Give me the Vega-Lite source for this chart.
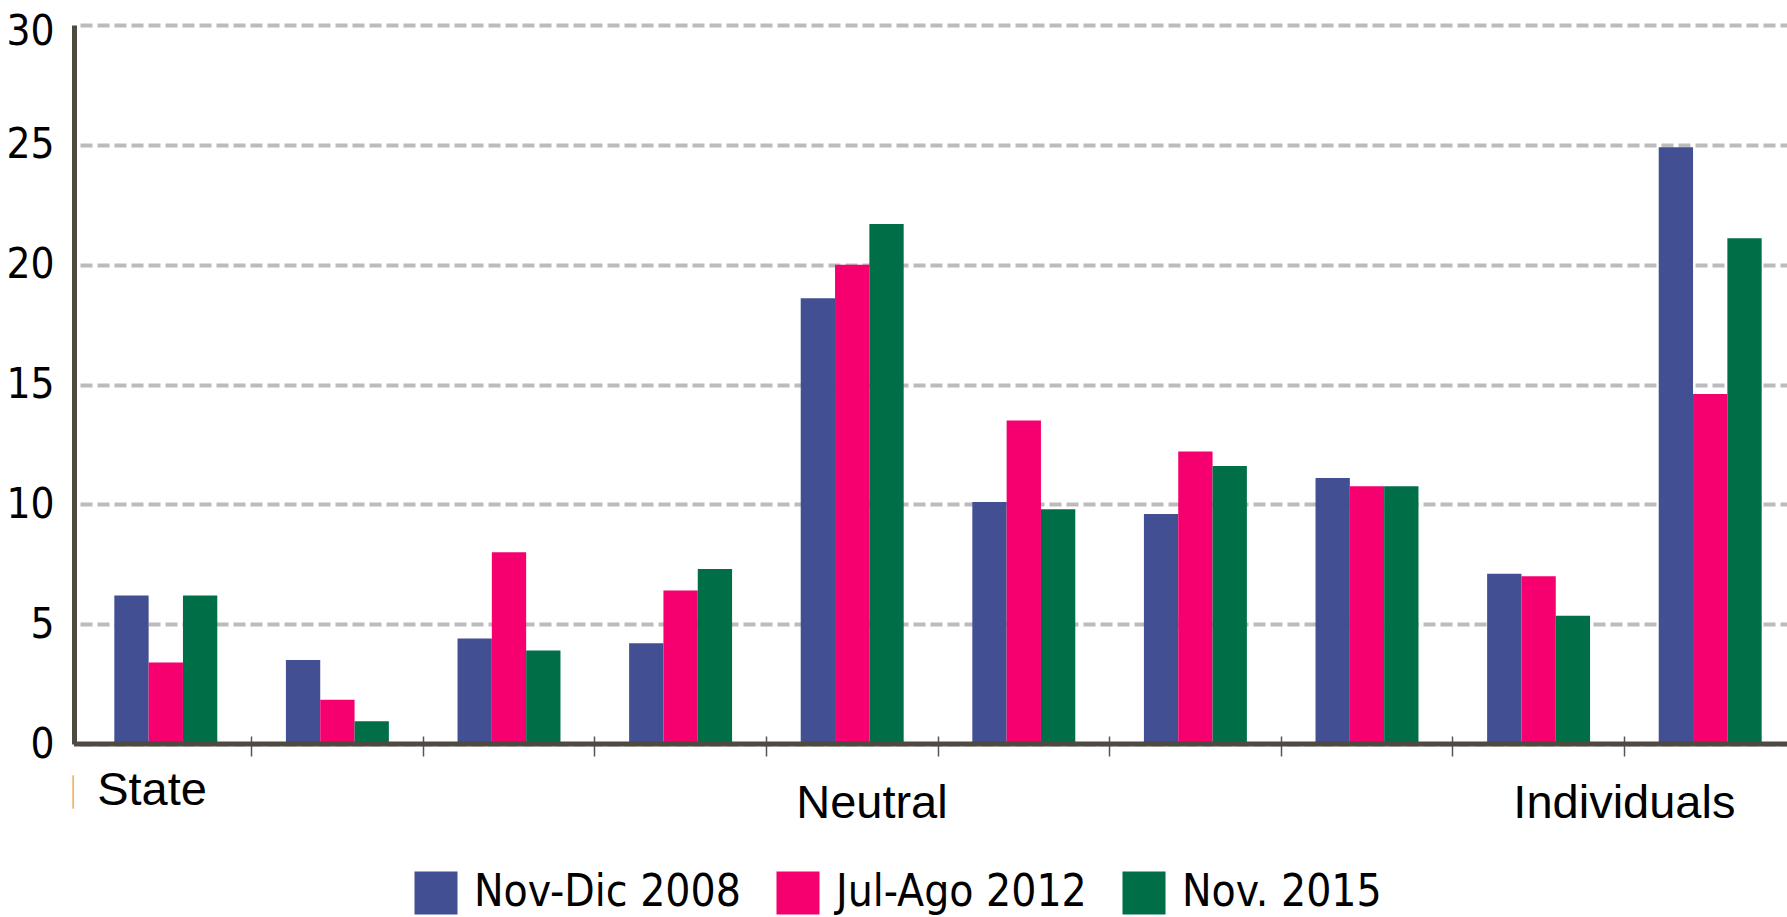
{
  "$schema": "https://vega.github.io/schema/vega-lite/v6.json",
  "autosize": {"type": "none"},
  "padding": {"left": 74, "top": 25, "right": 0, "bottom": 173},
  "width": 1713,
  "height": 719,
  "background": "white",
  "config": {"view": {"stroke": null}, "font": "Liberation Sans"},
  "datasets": {
    "bars": [
      {"group": "G01", "period": "Nov-Dic 2008", "value": 6.2},
      {"group": "G01", "period": "Jul-Ago 2012", "value": 3.4},
      {"group": "G01", "period": "Nov. 2015", "value": 6.2},
      {"group": "G02", "period": "Nov-Dic 2008", "value": 3.5},
      {"group": "G02", "period": "Jul-Ago 2012", "value": 1.85},
      {"group": "G02", "period": "Nov. 2015", "value": 0.95},
      {"group": "G03", "period": "Nov-Dic 2008", "value": 4.4},
      {"group": "G03", "period": "Jul-Ago 2012", "value": 8.0},
      {"group": "G03", "period": "Nov. 2015", "value": 3.9},
      {"group": "G04", "period": "Nov-Dic 2008", "value": 4.2},
      {"group": "G04", "period": "Jul-Ago 2012", "value": 6.4},
      {"group": "G04", "period": "Nov. 2015", "value": 7.3},
      {"group": "G05", "period": "Nov-Dic 2008", "value": 18.6},
      {"group": "G05", "period": "Jul-Ago 2012", "value": 20.0},
      {"group": "G05", "period": "Nov. 2015", "value": 21.7},
      {"group": "G06", "period": "Nov-Dic 2008", "value": 10.1},
      {"group": "G06", "period": "Jul-Ago 2012", "value": 13.5},
      {"group": "G06", "period": "Nov. 2015", "value": 9.8},
      {"group": "G07", "period": "Nov-Dic 2008", "value": 9.6},
      {"group": "G07", "period": "Jul-Ago 2012", "value": 12.2},
      {"group": "G07", "period": "Nov. 2015", "value": 11.6},
      {"group": "G08", "period": "Nov-Dic 2008", "value": 11.1},
      {"group": "G08", "period": "Jul-Ago 2012", "value": 10.75},
      {"group": "G08", "period": "Nov. 2015", "value": 10.75},
      {"group": "G09", "period": "Nov-Dic 2008", "value": 7.1},
      {"group": "G09", "period": "Jul-Ago 2012", "value": 7.0},
      {"group": "G09", "period": "Nov. 2015", "value": 5.35},
      {"group": "G10", "period": "Nov-Dic 2008", "value": 24.9},
      {"group": "G10", "period": "Jul-Ago 2012", "value": 14.6},
      {"group": "G10", "period": "Nov. 2015", "value": 21.1}
    ],
    "labels": [
      {"label": "State", "group": "G01"},
      {"label": "Neutral", "group": "G05"},
      {"label": "Individuals", "group": "G10"}
    ]
  },
  "layer": [
    {
      "data": {"name": "bars"},
      "mark": {"type": "bar"},
      "encoding": {
        "x": {
          "field": "group",
          "type": "nominal",
          "scale": {
            "domain": ["G01", "G02", "G03", "G04", "G05", "G06", "G07", "G08", "G09", "G10"],
            "range": [6, 1722],
            "paddingInner": 0,
            "paddingOuter": 0
          },
          "axis": {
            "title": null,
            "labels": false,
            "domain": false,
            "grid": false,
            "bandPosition": 0,
            "tickSize": 20,
            "offset": -8,
            "tickWidth": 1.5,
            "tickColor": "#555555",
            "tickOpacity": {"condition": {"test": "datum.value === 'G01'", "value": 0}, "value": 1}
          }
        },
        "xOffset": {
          "field": "period",
          "type": "nominal",
          "sort": ["Nov-Dic 2008", "Jul-Ago 2012", "Nov. 2015"],
          "scale": {"paddingInner": 0, "paddingOuter": 1.1}
        },
        "y": {
          "field": "value",
          "type": "quantitative",
          "scale": {"domain": [0, 30], "nice": false},
          "axis": {
            "title": null,
            "values": [0, 5, 10, 15, 20, 25, 30],
            "grid": true,
            "gridColor": "#bcbcbc",
            "gridDash": [12, 5],
            "gridWidth": 4,
            "domainColor": "#4e4a41",
            "domainWidth": 5,
            "ticks": false,
            "labelFont": "DejaVu Sans Condensed, Liberation Sans",
            "labelFontSize": 42,
            "labelColor": "black",
            "labelPadding": 20,
            "labelOffset": {"condition": {"test": "datum.value === 30", "value": 6}, "value": 0}
          }
        },
        "color": {
          "field": "period",
          "type": "nominal",
          "sort": ["Nov-Dic 2008", "Jul-Ago 2012", "Nov. 2015"],
          "scale": {
            "domain": ["Nov-Dic 2008", "Jul-Ago 2012", "Nov. 2015"],
            "range": ["#434f93", "#f5006e", "#006f48"]
          },
          "legend": {
            "orient": "none",
            "legendX": 340,
            "legendY": 846,
            "direction": "horizontal",
            "title": null,
            "symbolType": "square",
            "symbolSize": 1849,
            "symbolStrokeWidth": 0,
            "symbolOpacity": 1,
            "labelFont": "DejaVu Sans Condensed, Liberation Sans",
            "labelFontSize": 44,
            "labelColor": "black",
            "labelOffset": 16,
            "labelLimit": 500,
            "columnPadding": 35,
            "padding": 0,
            "rowPadding": 0
          }
        }
      }
    },
    {
      "data": {"values": [{}]},
      "mark": {"type": "rule", "color": "#4e4a41", "strokeWidth": 5},
      "encoding": {"y": {"datum": 0, "scale": {"domain": [0, 30], "nice": false}}}
    },
    {
      "data": {"name": "labels"},
      "transform": [{"filter": "datum.label === 'State'"}],
      "mark": {"type": "text", "align": "left", "baseline": "alphabetic", "fontSize": 47, "font": "Liberation Sans", "color": "black"},
      "encoding": {
        "x": {"field": "group", "type": "nominal", "bandPosition": 0.1},
        "y": {"datum": -2.55, "scale": {"domain": [0, 30], "nice": false}},
        "text": {"field": "label"}
      }
    },
    {
      "data": {"name": "labels"},
      "transform": [{"filter": "datum.label === 'Neutral'"}],
      "mark": {"type": "text", "align": "center", "baseline": "alphabetic", "fontSize": 47, "font": "Liberation Sans", "color": "black"},
      "encoding": {
        "x": {"field": "group", "type": "nominal", "bandPosition": 0.615},
        "y": {"datum": -3.1, "scale": {"domain": [0, 30], "nice": false}},
        "text": {"field": "label"}
      }
    },
    {
      "data": {"name": "labels"},
      "transform": [{"filter": "datum.label === 'Individuals'"}],
      "mark": {"type": "text", "align": "center", "baseline": "alphabetic", "fontSize": 47, "font": "Liberation Sans", "color": "black"},
      "encoding": {
        "x": {"field": "group", "type": "nominal", "bandPosition": 0},
        "y": {"datum": -3.1, "scale": {"domain": [0, 30], "nice": false}},
        "text": {"field": "label"}
      }
    },
    {
      "data": {"values": [{}]},
      "mark": {"type": "rule", "color": "#f5a94a", "strokeWidth": 1.5},
      "encoding": {
        "x": {"datum": "G01", "type": "nominal", "bandPosition": -0.04},
        "y": {"datum": -1.3, "scale": {"domain": [0, 30], "nice": false}},
        "y2": {"datum": -2.7}
      }
    }
  ]
}
